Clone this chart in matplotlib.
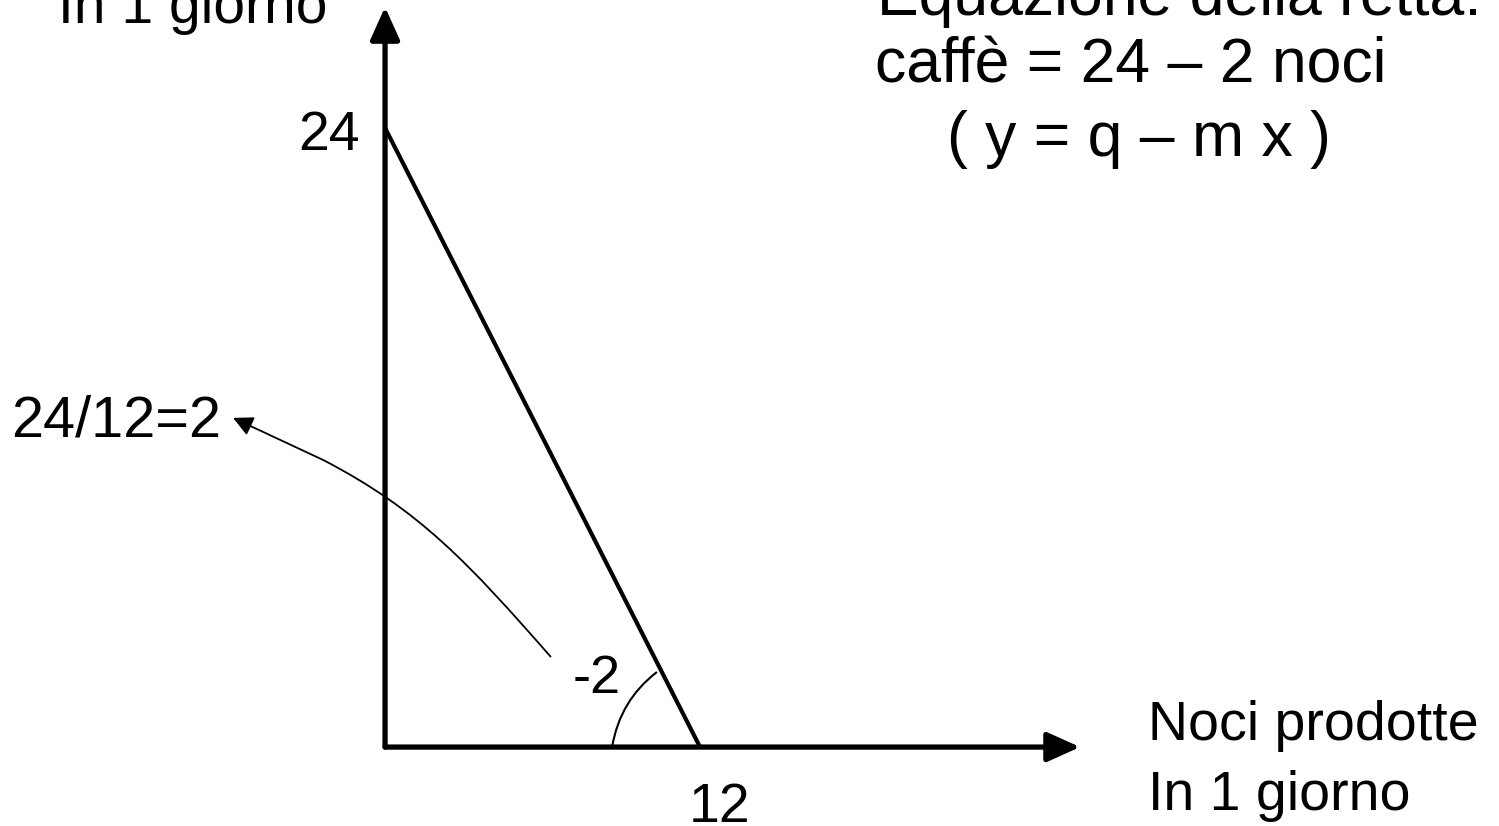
import matplotlib
matplotlib.use("Agg")
import matplotlib.pyplot as plt
from matplotlib.path import Path
from matplotlib.patches import PathPatch

plt.rcParams['font.family'] = ['Liberation Sans', 'DejaVu Sans']

# retta: caffè = 24 - 2 noci
noci = [0, 12]
caffe = [24, 0]
tick_labels = ["24", "12"]

# freccia curva verso "24/12=2" e arco dell'angolo (unità del grafico)
curve_pts = [(6.32, 3.49), (3.24, 7.06), (1.33, 9.19), (-2.36, 11.13)]
curve_tip = (-5.79, 12.76)
angle_pts = [(8.65, 0.0), (8.95, 1.82), (10.36, 2.91)]

fig = plt.figure(figsize=(14.99, 8.26), dpi=100)
ax = fig.add_axes([0, 0, 1, 1])
ax.set_xlim(-14.67, 42.44)
ax.set_ylim(-3.06, 28.96)
ax.axis('off')

fs = 40
fs_eq = 45

# assi con frecce
ax.annotate("", xy=(26.48, 0), xytext=(0, 0),
            arrowprops=dict(arrowstyle="-|>,head_length=1.0,head_width=0.45",
                            lw=3.8, color="black", mutation_scale=20,
                            shrinkA=0, shrinkB=0))
ax.annotate("", xy=(0, 28.69), xytext=(0, 0),
            arrowprops=dict(arrowstyle="-|>,head_length=1.0,head_width=0.45",
                            lw=3.8, color="black", mutation_scale=20,
                            shrinkA=0, shrinkB=0))

# la retta
ax.plot(noci, caffe, color="black", lw=3.0, solid_capstyle="butt")

# arco angolo -2
p = Path(angle_pts, [Path.MOVETO, Path.CURVE3, Path.CURVE3])
ax.add_patch(PathPatch(p, fill=False, lw=1.5, color="black"))

# freccia curva
p = Path(curve_pts, [Path.MOVETO, Path.CURVE4, Path.CURVE4, Path.CURVE4])
ax.add_patch(PathPatch(p, fill=False, lw=1.3, color="black"))
ax.annotate("", xy=curve_tip, xytext=curve_pts[-1],
            arrowprops=dict(arrowstyle="-|>,head_length=0.6,head_width=0.3",
                            lw=1.3, color="black", mutation_scale=20,
                            shrinkA=0, shrinkB=0))

# testi
ax.text(-12.46, 28.07, "In 1 giorno", fontsize=fs + 1, va="baseline", ha="left")
ax.text(-0.95, 23.15, tick_labels[0], fontsize=fs, va="baseline", ha="right")
ax.text(12.76, -2.9, tick_labels[1], fontsize=fs, va="baseline", ha="center")
ax.text(-14.23, 12.02, "24/12=2", fontsize=fs + 1.5, va="baseline", ha="left")
ax.text(7.15, 2.09, "-2", fontsize=fs - 1, va="baseline", ha="left")
ax.text(29.07, 0.27, "Noci prodotte", fontsize=fs, va="baseline", ha="left")
ax.text(29.07, -2.44, "In 1 giorno", fontsize=fs, va="baseline", ha="left")
ax.text(18.74, 28.38, "Equazione della retta:", fontsize=fs_eq, va="baseline", ha="left")
ax.text(18.67, 25.75, "caffè = 24 – 2 noci", fontsize=fs_eq, va="baseline", ha="left")
ax.text(21.41, 22.9, "( y = q – m x )", fontsize=fs_eq, va="baseline", ha="left")

fig.savefig("out.png", dpi=100)
